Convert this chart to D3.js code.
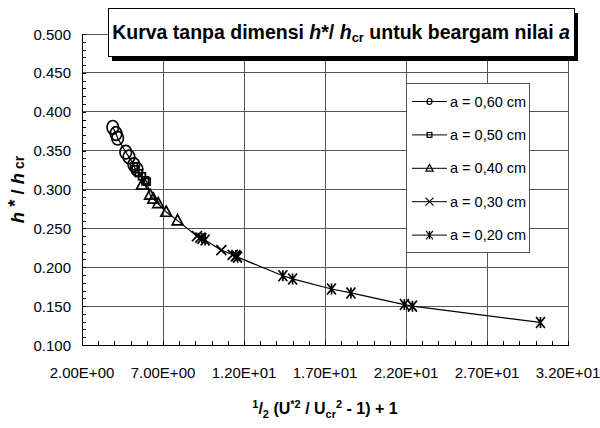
<!DOCTYPE html>
<html>
<head>
<meta charset="utf-8">
<script src="https://cdn.jsdelivr.net/npm/d3@7"></script>
<style>
  body { margin: 0; background: #fff; }
  svg { font-family: "Liberation Sans", Arial, sans-serif; }
</style>
</head>
<body>
<svg id="chart" width="600" height="428"></svg>
<script>
// data
var seriesNames = ["a = 0,60 cm", "a = 0,50 cm", "a = 0,40 cm", "a = 0,30 cm", "a = 0,20 cm"];
var seriesShapes = ["circle", "square", "triangle", "cross", "star"];

var x60 = [3.9, 4.1, 4.2, 4.7, 4.9, 5.2, 5.4];
var y60 = [0.380, 0.372, 0.366, 0.348, 0.342, 0.332, 0.326];
var x50 = [5.2, 5.3, 5.5, 5.7, 5.9, 6.0];
var y50 = [0.330, 0.326, 0.321, 0.317, 0.312, 0.310];
var x40 = [5.7, 6.2, 6.4, 6.7, 7.2, 7.9];
var y40 = [0.306, 0.293, 0.288, 0.282, 0.271, 0.260];
var x30 = [9.1, 9.3, 10.6, 11.3, 11.5];
var y30 = [0.240, 0.238, 0.222, 0.216, 0.214];
var x20 = [9.4, 9.6, 11.5, 11.6, 14.4, 15.0, 17.4, 18.6, 21.9, 22.4, 30.3];
var y20 = [0.237, 0.235, 0.215, 0.213, 0.189, 0.185, 0.172, 0.167, 0.152, 0.150, 0.129];

var xTicks = [2, 7, 12, 17, 22, 27, 32];
var yTicks = [0.10, 0.15, 0.20, 0.25, 0.30, 0.35, 0.40, 0.45, 0.50];

var seriesX = [x60, x50, x40, x30, x20];
var seriesY = [y60, y50, y40, y30, y20];

// define parameters
var svg = d3.select("svg#chart");
var pLeft = 82, pRight = 568, pTop = 34, pBottom = 345;

var x = d3.scaleLinear().domain([2, 32]).range([pLeft, pRight]);
var y = d3.scaleLinear().domain([0.1, 0.5]).range([pBottom, pTop]);

var fmtX = function(d) { return d.toExponential(2).toUpperCase().replace(/E([+-])(\d)$/, "E$10$2"); };

// grid
svg.append("g")
   .selectAll("line")
   .data(xTicks.slice(1, -1))
   .enter().append("line")
   .attr("x1", function(d) { return x(d); })
   .attr("x2", function(d) { return x(d); })
   .attr("y1", pTop)
   .attr("y2", pBottom)
   .attr("stroke", "#555")
   .attr("shape-rendering", "crispEdges");

svg.append("g")
   .selectAll("line")
   .data(yTicks.slice(1, -1))
   .enter().append("line")
   .attr("x1", pLeft)
   .attr("x2", pRight)
   .attr("y1", function(d) { return y(d); })
   .attr("y2", function(d) { return y(d); })
   .attr("stroke", "#555")
   .attr("shape-rendering", "crispEdges");

// frame
svg.append("rect")
   .attr("x", pLeft)
   .attr("y", pTop)
   .attr("width", pRight - pLeft)
   .attr("height", pBottom - pTop)
   .attr("fill", "none")
   .attr("stroke", "#555")
   .attr("shape-rendering", "crispEdges");

// axes
var xAxis = svg.append("g")
   .attr("transform", "translate(0," + pBottom + ")")
   .call(d3.axisBottom(x).ticks(30).tickSize(-4).tickFormat(""));
var yAxis = svg.append("g")
   .attr("transform", "translate(" + pLeft + ",0)")
   .call(d3.axisLeft(y).ticks(40).tickSize(-4).tickFormat(""));

[xAxis, yAxis].forEach(function(a) {
    a.selectAll("path, line").attr("stroke", "#000").attr("shape-rendering", "crispEdges");
});

// tick labels
svg.append("g")
   .selectAll("text")
   .data(xTicks)
   .enter().append("text")
   .attr("x", function(d) { return x(d); })
   .attr("y", 378)
   .attr("text-anchor", "middle")
   .attr("font-size", 15)
   .text(fmtX);

svg.append("g")
   .selectAll("text")
   .data(yTicks)
   .enter().append("text")
   .attr("x", 71)
   .attr("y", function(d) { return y(d) + 5.5; })
   .attr("text-anchor", "end")
   .attr("font-size", 15)
   .text(function(d) { return d3.format(".3f")(d); });

// curve through every point
var allPts = [];
seriesX.forEach(function(xs, i) {
    xs.forEach(function(v, j) { allPts.push([v, seriesY[i][j]]); });
});
allPts.sort(function(a, b) { return a[0] - b[0]; });

svg.append("path")
   .datum(allPts)
   .attr("d", d3.line().x(function(d) { return x(d[0]); }).y(function(d) { return y(d[1]); }))
   .attr("fill", "none")
   .attr("stroke", "#000")
   .attr("stroke-width", 1.2);

// markers
function marker(g, shape, s) {
    if (shape == "circle") {
        g.append("ellipse").attr("rx", s * 0.85).attr("ry", s);
    } else if (shape == "square") {
        g.append("rect").attr("x", -s * 0.75).attr("y", -s * 0.75).attr("width", s * 1.5).attr("height", s * 1.5);
    } else if (shape == "triangle") {
        g.append("path").attr("d", "M0," + (-s) + "L" + (s * 0.9) + "," + (s * 0.7) + "L" + (-s * 0.9) + "," + (s * 0.7) + "Z");
    } else if (shape == "cross") {
        g.append("path").attr("d", "M" + (-s) + "," + (-s) + "L" + s + "," + s + "M" + (-s) + "," + s + "L" + s + "," + (-s));
    } else {
        g.append("path").attr("d", "M" + (-s * 0.8) + "," + (-s) + "L" + (s * 0.8) + "," + s + "M" + (-s * 0.8) + "," + s + "L" + (s * 0.8) + "," + (-s) + "M0," + (-s) + "L0," + s);
    }
    g.selectAll("*").attr("fill", "none").attr("stroke", "#000").attr("stroke-width", 1.7);
}

var markSize = [6.8, 4.5, 6, 5, 5.5];
seriesX.forEach(function(xs, i) {
    xs.forEach(function(v, j) {
        var g = svg.append("g")
                   .attr("transform", "translate(" + x(v) + "," + y(seriesY[i][j]) + ")");
        marker(g, seriesShapes[i], markSize[i]);
    });
});

// legend
var legend = svg.append("g");
legend.append("rect")
      .attr("x", 406)
      .attr("y", 83)
      .attr("width", 123)
      .attr("height", 169)
      .attr("fill", "#fff")
      .attr("stroke", "#555")
      .attr("shape-rendering", "crispEdges");

var legSize = [3, 3.2, 4, 4, 4.2];
seriesNames.forEach(function(name, i) {
    var ly = 101.5 + i * 33.4;
    legend.append("line")
          .attr("x1", 412).attr("x2", 447)
          .attr("y1", ly).attr("y2", ly)
          .attr("stroke", "#000");
    var g = legend.append("g").attr("transform", "translate(429.5," + ly + ")");
    marker(g, seriesShapes[i], legSize[i]);
    g.selectAll("*").attr("stroke-width", 1.2);
    legend.append("text")
          .attr("x", 450)
          .attr("y", ly + 5)
          .attr("font-size", 14.5)
          .text(name);
});

// title box with shadow
svg.append("rect")
   .attr("x", 112).attr("y", 13)
   .attr("width", 466).attr("height", 48)
   .attr("fill", "#000");
svg.append("rect")
   .attr("x", 108).attr("y", 8)
   .attr("width", 466).attr("height", 48)
   .attr("fill", "#fff")
   .attr("stroke", "#000")
   .attr("shape-rendering", "crispEdges");

var title = svg.append("text")
   .attr("x", 341)
   .attr("y", 39)
   .attr("text-anchor", "middle")
   .attr("font-size", 19.5)
   .attr("font-weight", "bold");
title.append("tspan").text("Kurva tanpa dimensi ");
title.append("tspan").attr("font-style", "italic").text("h");
title.append("tspan").text("*/ ");
title.append("tspan").attr("font-style", "italic").text("h");
title.append("tspan").attr("font-size", 13).attr("dy", 3).text("cr");
title.append("tspan").attr("dy", -3).text(" untuk beargam nilai ");
title.append("tspan").attr("font-style", "italic").text("a");

// y title
var ytitle = svg.append("text")
   .attr("transform", "translate(24," + ((pTop + pBottom) / 2) + ") rotate(-90)")
   .attr("text-anchor", "middle")
   .attr("font-size", 18.5)
   .attr("font-weight", "bold");
ytitle.append("tspan").attr("font-style", "italic").text("h");
ytitle.append("tspan").attr("dy", -3).text(" *");
ytitle.append("tspan").attr("dy", 3).text("  /  ");
ytitle.append("tspan").attr("font-style", "italic").text("h");
ytitle.append("tspan").attr("font-size", 14).text(" cr");

// x title
var xtitle = svg.append("text")
   .attr("x", (pLeft + pRight) / 2)
   .attr("y", 414)
   .attr("text-anchor", "middle")
   .attr("font-size", 16)
   .attr("font-weight", "bold");
xtitle.append("tspan").attr("font-size", 11).attr("dy", -6).text("1");
xtitle.append("tspan").attr("dy", 6).text("/");
xtitle.append("tspan").attr("font-size", 11).attr("dy", 4).text("2");
xtitle.append("tspan").attr("dy", -4).text(" (U");
xtitle.append("tspan").attr("font-size", 11).attr("dy", -6).text("*2");
xtitle.append("tspan").attr("dy", 6).text(" / U");
xtitle.append("tspan").attr("font-size", 11).attr("dy", 4).text("cr");
xtitle.append("tspan").attr("font-size", 11).attr("dy", -10).text("2");
xtitle.append("tspan").attr("dy", 6).text(" - 1) + 1");
</script>
</body>
</html>
